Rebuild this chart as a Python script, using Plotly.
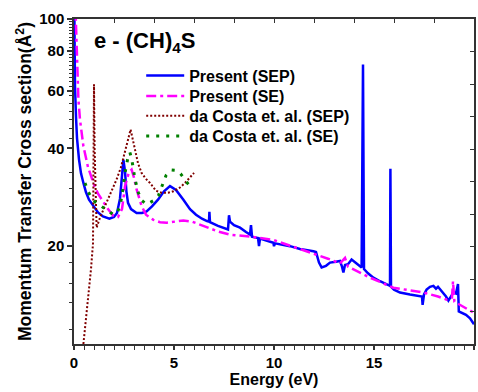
import plotly.graph_objects as go
import numpy as np

# Present (SEP)
sep_e = [0.0, 0.02, 0.05, 0.1, 0.15, 0.25, 0.35, 0.47, 0.6, 0.75, 0.97, 1.2, 1.45, 1.77, 2.0, 2.15, 2.3, 2.4, 2.47,
         2.55, 2.62, 2.7, 2.85, 3.13, 3.4, 3.63, 3.9, 4.2, 4.5, 4.8, 5.1, 5.47, 5.8, 6.1, 6.4, 6.65, 6.75, 6.77, 6.8,
         7.2, 7.7, 7.75, 7.8, 8.0, 8.3, 8.6, 8.8, 8.85, 8.9, 9.2, 9.25, 9.3, 9.97, 10.0, 10.05, 10.8, 11.3, 11.97,
         12.1, 12.25, 12.38, 12.6, 12.8, 13.1, 13.3, 13.4, 13.47, 13.55, 13.7, 13.88, 14.1, 14.38, 14.45, 14.5, 14.7,
         14.97, 15.3, 15.6, 15.8, 15.82, 15.85, 16.0, 16.3, 16.8, 17.4, 17.43, 17.5, 17.63, 17.8, 17.97, 18.1, 18.2,
         18.4, 18.6, 18.72, 18.85, 18.97, 19.1, 19.2, 19.24, 19.35, 19.6, 19.8, 20.0]
sep_v = [140, 100, 62, 50, 43, 37, 33.5, 31.3, 29.3, 27.8, 26.5, 25.4, 24.7, 24.3, 24.6, 25.3, 28, 33, 36.9,
         34, 29.5, 27.2, 26, 25.3, 25.3, 25.6, 26.5, 27.8, 29.5, 30.6, 29.8, 27.8, 26, 25, 24.3, 23.9, 23.8, 25.5, 23.7,
         23.1, 22.5, 24.9, 23.8, 23.2, 22.8, 22.1, 21.7, 23.2, 21.4, 21.2, 20.0, 21.1, 20.5, 20.0, 20.4, 20.0, 19.6, 19.3,
         19.2, 17.8, 17.2, 17.4, 17.8, 17.9, 18.0, 17.3, 16.6, 17.5, 17.6, 18.2, 17.7, 17.2, 72.4, 17.0, 16.5,
         16.0, 15.6, 15.3, 15.1, 34.6, 15.0, 14.7, 14.4, 14.2, 14.0, 13.2, 14.2, 14.7, 15.0, 15.1, 14.8, 15.0,
         14.5, 14.0, 13.6, 14.0, 14.4, 14.3, 15.3, 12.6, 12.5, 12.3, 12.0, 11.5]

# Present (SE)
se_e = [0.0, 0.08, 0.12, 0.16, 0.22, 0.3, 0.47, 0.7, 0.97, 1.2, 1.47, 1.7, 1.97, 2.2, 2.4, 2.55, 2.75, 2.88, 3.0,
        3.13, 3.38, 3.6, 3.97, 4.3, 4.63, 5.0, 5.47, 5.9, 6.3, 6.63, 7.2, 7.8, 8.8, 9.97, 11.1, 11.8, 12.7, 13.3,
        13.55, 13.7, 14.8, 15.97, 16.8, 17.47, 18.2, 18.63, 18.9, 18.95, 19.02, 19.3, 19.97]
se_v = [150, 100, 80, 66, 56.5, 49, 40.6, 35, 31.3, 29, 27.2, 26, 24.8, 24.6, 26, 30.6, 33.8, 34.4, 32.5,
        29.9, 26.6, 25, 24.1, 23.7, 23.6, 23.8, 24.0, 23.8, 23.3, 22.8, 22.2, 21.7, 21.4, 20.9, 19.8, 19.1, 18.3, 17.7,
        18.4, 17.3, 16.0, 14.9, 14.6, 14.4, 14.0, 13.7, 13.9, 15.6, 13.5, 13.2, 12.5]

# da Costa et al. (SEP)
dc_sep_e = [0.47, 0.6, 0.72, 0.85, 0.95, 0.98, 1.0, 1.03, 1.1, 1.13, 1.3, 1.63, 1.9, 2.13, 2.35, 2.55, 2.7, 2.83,
            2.95, 3.05, 3.2, 3.38, 3.6, 3.8, 4.1, 4.38, 4.7, 4.97, 5.3, 5.55, 5.8, 6.0]
dc_sep_v = [10.0, 12, 14.0, 17, 20.4, 40, 63, 40, 24, 22.8, 24.5, 27.2, 29.8, 32.1, 35, 38.7, 42.5, 45.7,
            42.5, 39.7, 36, 33.6, 32.2, 31.3, 29.6, 29.2, 29.2, 29.5, 30.3, 31.3, 32.5, 33.6]

# da Costa et al. (SE)
dc_se_e = [0.55, 0.7, 0.88, 1.1, 1.38, 1.7, 1.97, 2.15, 2.3, 2.45, 2.55, 2.68, 2.8, 2.92, 3.05, 3.22, 3.4, 3.63,
           3.97, 4.22, 4.43, 4.6, 4.88, 5.1, 5.33, 5.63, 5.95]
dc_se_v = [31.3, 29.5, 28.1, 27.2, 26.5, 25.6, 25.0, 25.3, 26.5, 30, 33.6, 37, 38.8, 36, 32.1, 29.2, 27.6, 26.9,
           27.6, 28.6, 31.2, 33, 34.3, 34.2, 33.4, 31.5, 29.9]

x_ticks = [0, 5, 10, 15, 20]
y_ticks = [20, 40, 60, 80, 100]
y_minor = [11.1, 13.4, 15.4, 17.8, 26.5, 30, 33.6, 43, 46, 49, 52, 55, 58] + list(range(62, 100, 2))
top_ticks = list(range(2, 20, 2))
right_ticks = [10 ** (1 + 0.1 * k) for k in range(1, 10)]

FONT = "Arial, Liberation Sans, sans-serif"

fig = go.Figure()
fig.add_trace(go.Scatter(x=sep_e, y=sep_v, mode="lines", name="Present (SEP)", legend="legend",
                         line=dict(color="#0000FF", width=2.5)))
fig.add_trace(go.Scatter(x=se_e, y=se_v, mode="lines", name="Present (SE)", legend="legend2",
                         line=dict(color="#FF00FF", width=2.5, dash="10px,4px,3px,4px")))
fig.add_trace(go.Scatter(x=dc_sep_e, y=dc_sep_v, mode="lines", name="da Costa et. al. (SEP)", legend="legend3",
                         line=dict(color="#800000", width=2, dash="2px,2px")))
fig.add_trace(go.Scatter(x=dc_se_e, y=dc_se_v, mode="lines", name="da Costa et. al. (SE)", legend="legend4",
                         line=dict(color="#008000", width=3, dash="3px,7px")))
# empty trace to host mirror axes
fig.add_trace(go.Scatter(x=[], y=[], xaxis="x2", yaxis="y2", showlegend=False, hoverinfo="skip"))

axis_col = "#333333"


def leg(ypos):
    return dict(x=0.168, y=ypos, xanchor="left", yanchor="middle",
                font=dict(family=FONT, size=16, color="black", weight="bold"),
                bgcolor="rgba(0,0,0,0)", itemwidth=38, borderwidth=0)


fig.update_layout(
    width=478, height=392,
    margin=dict(l=74, r=4, t=19, b=48),
    paper_bgcolor="white", plot_bgcolor="white",
    font=dict(family=FONT, color="black"),
    showlegend=True,
    legend=leg(0.826), legend2=leg(0.763), legend3=leg(0.702), legend4=leg(0.640),
    xaxis=dict(range=[0, 20], tickvals=x_ticks, ticks="outside", ticklen=4, tickwidth=1.5,
               tickcolor=axis_col, showline=True, linecolor=axis_col, linewidth=1.5, showgrid=False,
               zeroline=False, tickfont=dict(size=15, weight="bold", family=FONT),
               minor=dict(dtick=0.5, ticks="outside", ticklen=4, tickcolor=axis_col, tickwidth=1.2, showgrid=False),
               title=dict(text="Energy (eV)", font=dict(size=16, weight="bold", family=FONT), standoff=4)),
    yaxis=dict(type="log", range=[1, 2], tickvals=y_ticks, ticktext=[str(v) for v in y_ticks],
               ticks="outside", ticklen=5, tickwidth=1.5, tickcolor=axis_col, showline=True,
               linecolor=axis_col, linewidth=1.5, showgrid=False, zeroline=False,
               tickfont=dict(size=15, weight="bold", family=FONT),
               minor=dict(tickvals=y_minor, ticks="outside", ticklen=3, tickcolor=axis_col, tickwidth=1.2,
                          showgrid=False),
               title=dict(text="Momentum Transfer Cross section(Å<sup>2</sup>)",
                          font=dict(size=17.5, weight="bold", family=FONT), standoff=3)),
    xaxis2=dict(overlaying="x", side="top", anchor="y2", range=[0, 20], tickvals=top_ticks, ticks="inside",
                ticklen=4, tickcolor=axis_col, tickwidth=1.2, showticklabels=False, showline=True,
                linecolor=axis_col, linewidth=1.5, showgrid=False, zeroline=False),
    yaxis2=dict(overlaying="y", side="right", anchor="x2", type="log", range=[1, 2], tickvals=right_ticks,
                ticks="inside", ticklen=4, tickcolor=axis_col, tickwidth=1.2, showticklabels=False,
                showline=True, linecolor=axis_col, linewidth=1.5, showgrid=False, zeroline=False),
    annotations=[dict(text="<b>e - (CH)<sub>4</sub>S</b>", x=0.045, y=0.93, xref="paper", yref="paper",
                      xanchor="left", yanchor="middle", showarrow=False,
                      font=dict(size=22, family=FONT, color="black"))],
)

fig.write_html("out.html")
